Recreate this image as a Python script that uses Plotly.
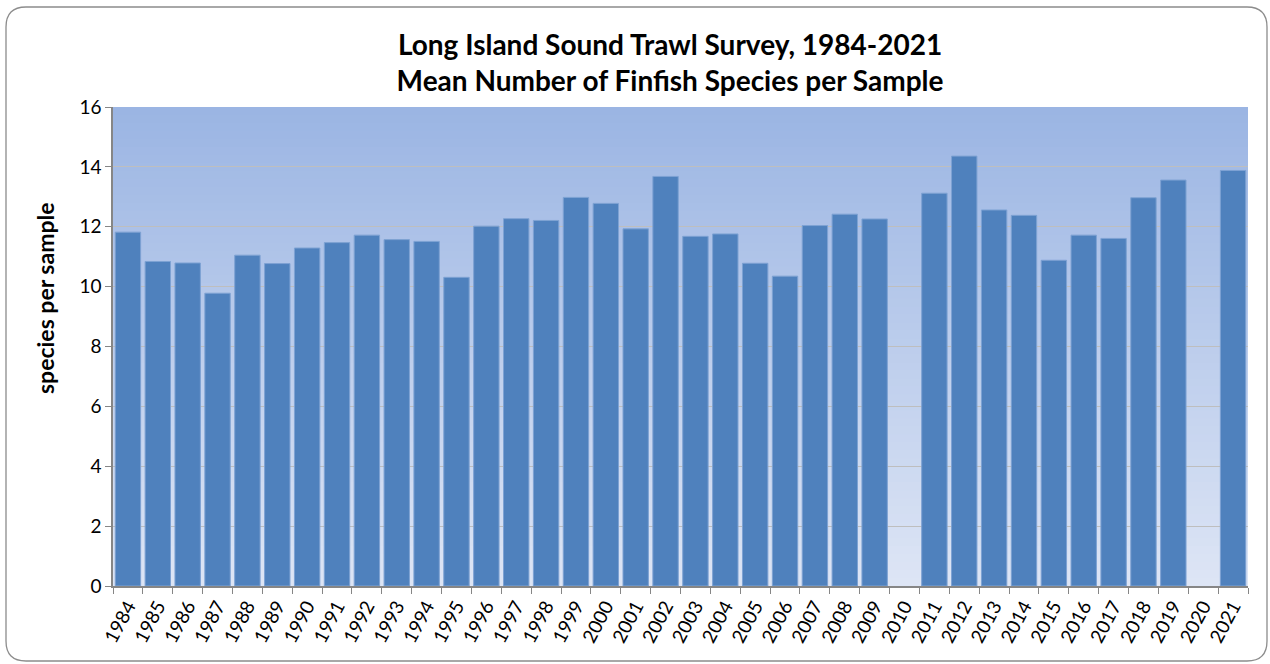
import plotly.graph_objects as go

years = [str(y) for y in range(1984, 2022)]
species = [11.82, 10.84, 10.79, 9.78, 11.05, 10.77, 11.29, 11.47, 11.72, 11.57,
           11.51, 10.31, 12.02, 12.27, 12.21, 12.98, 12.78, 11.93, 13.68, 11.68,
           11.76, 10.78, 10.35, 12.04, 12.42, 12.26, None, 13.12, 14.36, 12.56,
           12.38, 10.88, 11.72, 11.61, 12.97, 13.56, None, 13.88]
y_ticks = [0, 2, 4, 6, 8, 10, 12, 14, 16]

FONT = "Lato"

fig = go.Figure()
fig.add_trace(go.Bar(
    x=years, y=species,
    marker=dict(color="#4F81BD", line=dict(color="#7EA2D3", width=1)),
    hoverinfo="x+y",
))

# vertical gradient background in plot area
shapes = []
n = 60
top = (155, 181, 227)
bot = (221, 229, 245)
for i in range(n):
    t = i / (n - 1)
    c = tuple(round(bot[k] + (top[k] - bot[k]) * t) for k in range(3))
    shapes.append(dict(type="rect", xref="x domain", yref="y domain",
                       x0=0, x1=1, y0=i / n, y1=min(1, (i + 1) / n + 0.012),
                       fillcolor="rgb(%d,%d,%d)" % c, line=dict(width=0),
                       layer="below"))

# rounded outer border (pixel path anchored at plot-area bottom-left)
L, R, T, B, r = -107, 1154, 579, -75, 20
path = (f"M {L+r},{T} L {R-r},{T} Q {R},{T} {R},{T-r} L {R},{B+r} "
        f"Q {R},{B} {R-r},{B} L {L+r},{B} Q {L},{B} {L},{B+r} "
        f"L {L},{T-r} Q {L},{T} {L+r},{T} Z")
shapes.append(dict(type="path", xref="paper", yref="paper", xsizemode="pixel",
                   ysizemode="pixel", xanchor=0, yanchor=0, path=path,
                   line=dict(color="#8C8C8C", width=1.3), layer="above"))

fig.update_layout(
    width=1270, height=664,
    margin=dict(l=113, r=22, t=107, b=78),
    paper_bgcolor="white",
    plot_bgcolor="rgba(0,0,0,0)",
    font=dict(family=FONT, color="black", size=17),
    title=dict(text="<b>Long Island Sound Trawl Survey, 1984-2021<br>Mean Number of Finfish Species per Sample</b>",
               x=0.5276, xanchor="center", y=0.9175, yanchor="top",
               font=dict(family=FONT, size=28, color="black")),
    showlegend=False,
    bargap=0.15,
    shapes=shapes,
    annotations=[dict(text="<b>species per sample</b>", textangle=-90,
                      xref="paper", yref="paper", x=-0.06, y=0.601,
                      xanchor="center", yanchor="middle", showarrow=False,
                      font=dict(size=23, family=FONT, color="black"))],
    xaxis=dict(type="category", tickangle=-62, tickson="boundaries",
               ticks="outside", ticklen=6, tickcolor="#868686",
               showline=True, linecolor="#868686", linewidth=1.5,
               showgrid=False, tickfont=dict(size=19, family=FONT),
               range=[-0.5, len(years) - 0.5]),
    yaxis=dict(range=[0, 16], tickvals=y_ticks, ticks="outside", ticklen=6,
               tickcolor="#868686", showline=True, linecolor="#868686",
               linewidth=1.5, showgrid=True, gridcolor="#BEBEBE", gridwidth=1.3,
               zeroline=False, tickfont=dict(size=19, family=FONT)),
)

fig.write_html("out.html", config={"displayModeBar": False},
               post_script="document.body.style.margin='0';document.body.style.overflow='hidden';")
